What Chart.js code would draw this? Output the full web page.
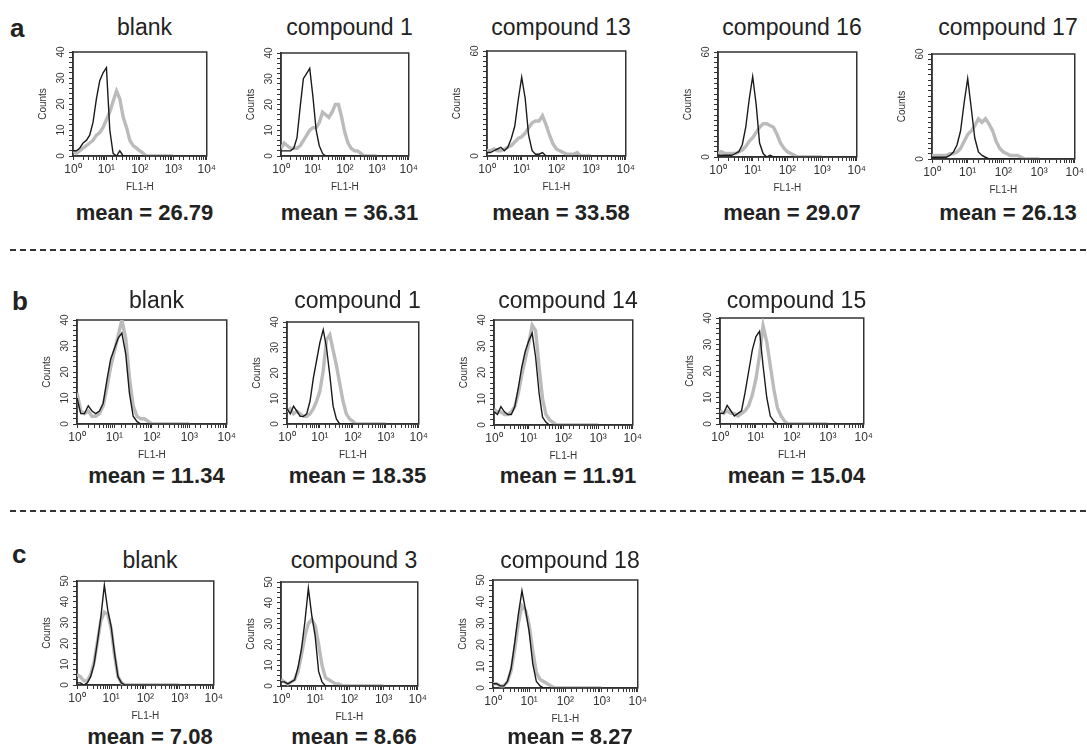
<!DOCTYPE html>
<html>
<head>
<meta charset="utf-8">
<title>FL1-H histograms</title>
<script src="https://cdn.jsdelivr.net/npm/chart.js@4.4.1/dist/chart.umd.min.js"></script>
<style>
  html, body { margin: 0; padding: 0; background: #fff; }
  body { position: relative; width: 1087px; height: 751px; overflow: hidden;
         font-family: "Liberation Sans", Arial, Helvetica, sans-serif; color: #222; }
  .panel { position: absolute; }
  .lbl { position: absolute; white-space: nowrap; line-height: 1; }
  .title { font-size: 23px; transform: translateX(-50%); }
  .mean { font-size: 22px; font-weight: bold; transform: translateX(-50%); }
  .letter { font-size: 26px; font-weight: bold; }
  .sep { position: absolute; left: 10px; right: 0; height: 2px;
         background: repeating-linear-gradient(to right, #333 0 6px, transparent 6px 10px); }
</style>
</head>
<body>
<div class="lbl letter" style="left:10px;top:15px">a</div>
<div class="lbl letter" style="left:12px;top:288px">b</div>
<div class="lbl letter" style="left:12px;top:541px">c</div>
<div class="sep" style="top:249px"></div>
<div class="sep" style="top:510px"></div>
<script>
Chart.defaults.font.family = '"Liberation Sans", Arial, sans-serif';
Chart.defaults.color = '#333';

// FL1-H channel positions, tenth-decade steps from 10^0 to 10^3
const fl1 = [1, 1.26, 1.58, 2, 2.51, 3.16, 3.98, 5.01, 6.31, 7.94,
             10, 12.6, 15.8, 20, 25.1, 31.6, 39.8, 50.1, 63.1, 79.4,
             100, 126, 158, 200, 251, 316, 398, 501, 631, 794, 1000];

const xTickLabels = {1: '10\u2070', 10: '10\u00b9', 100: '10\u00b2', 1000: '10\u00b3', 10000: '10\u2074'};

const yTicks40 = [0, 2, 4, 6, 8, 10, 12, 14, 16, 18, 20, 22, 24, 26, 28, 30, 32, 34, 36, 38, 40];
const yTicks50 = [0, 2.5, 5, 7.5, 10, 12.5, 15, 17.5, 20, 22.5, 25, 27.5, 30, 32.5, 35, 37.5, 40, 42.5, 45, 47.5, 50];
const yTicks60 = [0, 3, 6, 9, 12, 15, 18, 21, 24, 27, 30, 33, 36, 39, 42, 45, 48, 51, 54, 57, 60];
const yLabels40 = [0, 10, 20, 30, 40];
const yLabels50 = [0, 10, 20, 30, 40, 50];
const yLabels60 = [0, 60];

// row a
const aBlankCtrl  = [2,2,3,5,6,8,13,22,29,32,34,10,1,0,2,0,0,0,0,0,0,0,0,0,0,0,0,0,0,0,0];
const aBlankTreat = [2,1,2,3,4,5,6,8,9,11,14,17,21,25,22,15,11,6,4,3,2,1,0,0,0,0,0,0,0,0,0];
const aC1Ctrl     = [2,2,2,2,3,7,19,30,32,34,23,10,4,1,0,0,0,0,0,0,0,0,0,0,0,0,0,0,0,0,0];
const aC1Treat    = [3,5,4,3,3,3,4,6,8,10,11,11,13,17,16,15,17,20,20,15,9,5,3,2,2,1,0,0,0,0,0];
const aC13Ctrl    = [2,2,3,4,5,3,5,10,17,32,45,33,12,3,1,1,2,0,0,0,0,0,0,0,0,0,0,0,0,0,0];
const aC13Treat   = [3,3,4,3,3,4,5,6,8,10,11,13,16,19,20,20,23,18,12,7,4,3,2,1,1,1,2,0,0,0,0];
const aC16Ctrl    = [1,1,1,1,1,2,3,7,17,33,46,30,8,2,0,1,0,0,0,0,0,0,0,0,0,0,0,0,0,0,0];
const aC16Treat   = [2,3,2,2,2,2,3,4,6,9,11,14,17,19,19,18,17,13,8,5,3,2,1,0,0,0,0,0,0,0,0];
const aC17Ctrl    = [1,1,1,1,1,2,4,8,16,32,46,29,12,4,2,1,0,0,0,0,0,0,0,0,0,0,0,0,0,0,0];
const aC17Treat   = [2,2,2,2,2,3,3,4,6,10,14,16,19,23,21,23,20,16,10,6,4,3,2,2,2,1,0,0,0,0,0];

// row b
const bBlankCtrl  = [10,4,4,7,5,4,5,8,17,25,29,33,35,27,12,3,1,0,0,0,0,0,0,0,0,0,0,0,0,0,0];
const bBlankTreat = [12,5,4,5,3,3,4,7,14,22,28,34,40,33,18,7,3,2,2,1,0,0,0,0,0,0,0,0,0,0,0];
const bC1Ctrl     = [6,4,7,5,3,3,4,9,18,25,32,37,30,19,7,2,0,0,0,0,0,0,0,0,0,0,0,0,0,0,0];
const bC1Treat    = [5,6,4,5,4,3,3,4,6,9,13,21,33,35,29,23,16,9,4,2,1,0,0,0,0,0,0,0,0,0,0];
const bC14Ctrl    = [5,4,7,5,4,4,7,14,22,28,32,35,26,12,3,1,0,0,0,0,0,0,0,0,0,0,0,0,0,0,0];
const bC14Treat   = [6,5,5,4,4,5,7,12,19,25,31,38,36,22,10,4,2,1,0,0,0,0,0,0,0,0,0,0,0,0,0];
const bC15Ctrl    = [4,4,7,5,3,4,5,12,20,28,33,35,22,10,3,1,0,0,0,0,0,0,0,0,0,0,0,0,0,0,0];
const bC15Treat   = [5,4,5,4,4,3,4,5,7,11,17,26,37,31,22,13,6,3,1,0,0,0,0,0,0,0,0,0,0,0,0];

// row c
const cBlankCtrl  = [1,1,0,1,4,10,21,33,48,36,28,15,4,1,0,0,0,0,0,0,0,0,0,0,0,0,0,0,0,0,0];
const cBlankTreat = [5,4,2,2,5,11,21,31,35,34,27,14,4,1,0,0,0,0,0,0,0,0,0,0,0,0,0,0,0,0,0];
const cC3Ctrl     = [2,2,1,2,3,9,18,31,47,34,24,7,2,0,0,0,0,0,0,0,0,0,0,0,0,0,0,0,0,0,0];
const cC3Treat    = [3,2,1,2,3,7,15,24,30,32,29,20,10,4,3,2,1,1,0,0,0,0,0,0,0,0,0,0,0,0,0];
const cC18Ctrl    = [2,2,1,1,3,9,21,34,45,36,26,11,3,1,0,0,0,0,0,0,0,0,0,0,0,0,0,0,0,0,0];
const cC18Treat   = [2,2,1,1,3,8,18,30,38,36,29,17,7,4,3,2,1,0,0,0,0,0,0,0,0,0,0,0,0,0,0];

const panels = [
  {title: 'blank',       mean: '26.79', ctrl: aBlankCtrl, treat: aBlankTreat, yMax: 40, yTicks: yTicks40, yLabels: yLabels40, box: [73, 212, 50, 156],  titleY: 16,  meanY: 202},
  {title: 'compound 1',  mean: '36.31', ctrl: aC1Ctrl,    treat: aC1Treat,    yMax: 40, yTicks: yTicks40, yLabels: yLabels40, box: [281, 414, 51, 156], titleY: 16,  meanY: 202},
  {title: 'compound 13', mean: '33.58', ctrl: aC13Ctrl,   treat: aC13Treat,   yMax: 60, yTicks: yTicks60, yLabels: yLabels60, box: [487, 631, 49, 156], titleY: 16,  meanY: 202},
  {title: 'compound 16', mean: '29.07', ctrl: aC16Ctrl,   treat: aC16Treat,   yMax: 60, yTicks: yTicks60, yLabels: yLabels60, box: [718, 862, 50, 157], titleY: 16,  meanY: 202},
  {title: 'compound 17', mean: '26.13', ctrl: aC17Ctrl,   treat: aC17Treat,   yMax: 60, yTicks: yTicks60, yLabels: yLabels60, box: [932, 1080, 52, 159], titleY: 16, meanY: 202},

  {title: 'blank',       mean: '11.34', ctrl: bBlankCtrl, treat: bBlankTreat, yMax: 40, yTicks: yTicks40, yLabels: yLabels40, box: [77, 232, 318, 424],  titleY: 289, meanY: 465},
  {title: 'compound 1',  mean: '18.35', ctrl: bC1Ctrl,    treat: bC1Treat,    yMax: 40, yTicks: yTicks40, yLabels: yLabels40, box: [287, 424, 320, 424], titleY: 289, meanY: 465},
  {title: 'compound 14', mean: '11.91', ctrl: bC14Ctrl,   treat: bC14Treat,   yMax: 40, yTicks: yTicks40, yLabels: yLabels40, box: [494, 638, 318, 425], titleY: 289, meanY: 465},
  {title: 'compound 15', mean: '15.04', ctrl: bC15Ctrl,   treat: bC15Treat,   yMax: 40, yTicks: yTicks40, yLabels: yLabels40, box: [720, 869, 316, 424], titleY: 289, meanY: 465},

  {title: 'blank',       mean: '7.08',  ctrl: cBlankCtrl, treat: cBlankTreat, yMax: 50, yTicks: yTicks50, yLabels: yLabels50, box: [77, 219, 579, 685],  titleY: 549, meanY: 726},
  {title: 'compound 3',  mean: '8.66',  ctrl: cC3Ctrl,    treat: cC3Treat,    yMax: 50, yTicks: yTicks50, yLabels: yLabels50, box: [281, 423, 580, 686], titleY: 549, meanY: 726},
  {title: 'compound 18', mean: '8.27',  ctrl: cC18Ctrl,   treat: cC18Treat,   yMax: 50, yTicks: yTicks50, yLabels: yLabels50, box: [493, 643, 578, 688], titleY: 549, meanY: 726}
];

// frame round the plot area
const boxFrame = {
  id: 'boxFrame',
  beforeDatasetsDraw(chart) {
    const {ctx, chartArea: a} = chart;
    ctx.save();
    ctx.strokeStyle = '#333';
    ctx.lineWidth = 1.5;
    ctx.strokeRect(a.left, a.top, a.right - a.left, a.bottom - a.top);
    ctx.restore();
  }
};

function addText(cls, text, x, y) {
  const d = document.createElement('div');
  d.className = 'lbl ' + cls;
  d.textContent = text;
  d.style.left = x + 'px';
  d.style.top = y + 'px';
  document.body.appendChild(d);
}

function drawPanel(p) {
  const [L, R, T, B] = p.box;
  const yW = 37, xH = 38, padT = 6, padR = 6;
  const w = R - L + yW + padR, h = B - T + padT + xH;
  const cv = document.createElement('canvas');
  cv.className = 'panel';
  cv.width = w; cv.height = h;
  cv.style.left = (L - yW) + 'px';
  cv.style.top = (T - padT) + 'px';
  cv.style.width = w + 'px';
  cv.style.height = h + 'px';
  document.body.appendChild(cv);

  addText('title', p.title, (L + R) / 2 + 2, p.titleY);
  addText('mean', 'mean = ' + p.mean, (L + R) / 2 + 2, p.meanY);

  new Chart(cv, {
    type: 'line',
    data: {
      datasets: [
        {
          label: 'control',
          data: p.ctrl.map((c, i) => ({x: fl1[i], y: c})),
          borderColor: '#1a1a1a',
          borderWidth: 1.4,
          pointRadius: 0,
          tension: 0
        },
        {
          label: 'treated',
          data: p.treat.map((c, i) => ({x: fl1[i], y: c})),
          borderColor: '#bbbbbb',
          borderWidth: 3.4,
          pointRadius: 0,
          tension: 0
        }
      ]
    },
    options: {
      responsive: false,
      animation: false,
      devicePixelRatio: 1,
      layout: { padding: { top: padT, right: padR, left: 0, bottom: 0 } },
      plugins: { legend: { display: false }, tooltip: { enabled: false } },
      scales: {
        x: {
          type: 'logarithmic',
          min: 1,
          max: 10000,
          afterFit: s => { s.height = xH; },
          border: { display: true, color: '#333', width: 1.5 },
          grid: { drawOnChartArea: false, drawTicks: true, tickLength: 4, color: '#333', lineWidth: 1 },
          ticks: {
            autoSkip: false, minRotation: 0, maxRotation: 0, padding: 2,
            font: { size: 12 }, color: '#333',
            callback: v => xTickLabels[v] || ''
          },
          title: { display: true, text: 'FL1-H', font: { size: 10 }, color: '#333', padding: { top: 1, bottom: 1 } }
        },
        y: {
          min: 0,
          max: p.yMax,
          afterBuildTicks: s => { s.ticks = p.yTicks.map(v => ({value: v})); },
          afterFit: s => { s.width = yW; },
          border: { display: true, color: '#333', width: 1.5 },
          grid: { drawOnChartArea: false, drawTicks: true, tickLength: 4, color: '#333', lineWidth: 1 },
          ticks: {
            autoSkip: false, minRotation: 90, maxRotation: 90, crossAlign: 'center', padding: 2,
            font: { size: 10 }, color: '#333',
            callback: v => p.yLabels.includes(v) ? String(v) : ''
          },
          title: { display: true, text: 'Counts', font: { size: 10 }, color: '#333', padding: { top: 1, bottom: 1 } }
        }
      }
    },
    plugins: [boxFrame]
  });
}

panels.forEach(drawPanel);
</script>
</body>
</html>
